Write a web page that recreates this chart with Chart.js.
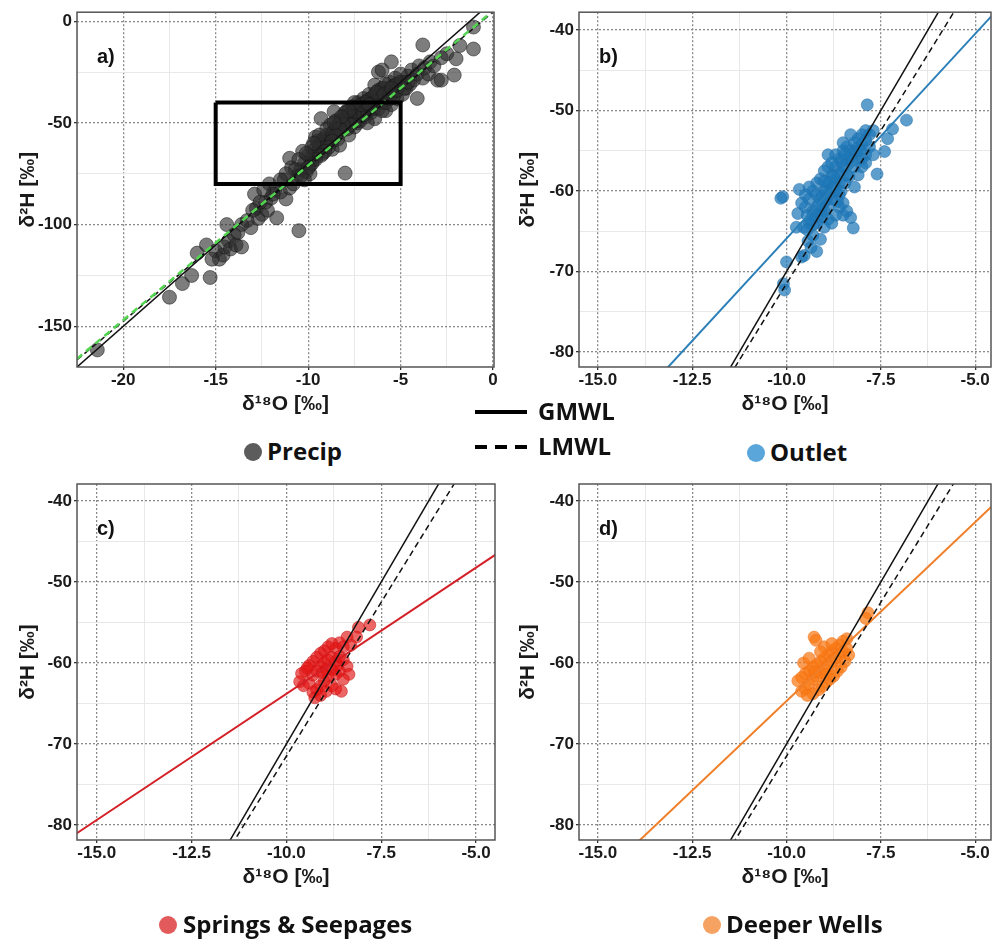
<!DOCTYPE html>
<html>
<head>
<meta charset="utf-8">
<script src="https://cdn.jsdelivr.net/npm/chart.js@4.4.1/dist/chart.umd.min.js"></script>
<style>
  body { margin: 0; background: #fff; width: 998px; height: 943px; position: relative; overflow: hidden; }
  canvas { position: absolute; }
  .leg { position: absolute; font-family: "Open Sans", Lato, sans-serif; font-weight: 700; font-size: 24px; color: #111; white-space: nowrap; line-height: 28px; }
  .dot { position: absolute; width: 18px; height: 18px; border-radius: 50%; }
  .ln { position: absolute; width: 52px; height: 4px; }
</style>
</head>
<body>
<canvas id="panelA" width="502" height="430" style="left:0;top:0"></canvas>
<canvas id="panelB" width="498" height="430" style="left:500px;top:0"></canvas>
<canvas id="panelC" width="502" height="440" style="left:0;top:470px"></canvas>
<canvas id="panelD" width="498" height="440" style="left:500px;top:470px"></canvas>

<div class="dot" style="left:244px;top:443px;background:#5c5c5c"></div>
<div class="leg" style="left:267px;top:437px">Precip</div>
<div class="dot" style="left:747px;top:444px;background:#5aa5da"></div>
<div class="leg" style="left:770px;top:438px">Outlet</div>
<div class="ln" style="left:475px;top:410px;background:#000"></div>
<div class="leg" style="left:538px;top:397px">GMWL</div>
<div class="ln" style="left:475px;top:445px;background:repeating-linear-gradient(to right,#000 0 12px,transparent 12px 20px)"></div>
<div class="leg" style="left:538px;top:432px">LMWL</div>
<div class="dot" style="left:159px;top:916px;background:#e35a5a"></div>
<div class="leg" style="left:183px;top:910px">Springs &amp; Seepages</div>
<div class="dot" style="left:703px;top:916px;background:#f6a262"></div>
<div class="leg" style="left:726px;top:910px">Deeper Wells</div>

<script>
// measured samples, [d18O, d2H]
var precip = [
  [-21.4,-161.6],[-17.5,-135.7],[-16.8,-129],[-16.3,-125],[-15.3,-126],[-16.0,-114],[-15.5,-110],
  [-15.0,-113],[-14.8,-117],[-14.6,-115],[-15.2,-117],[-14.5,-111],[-14.3,-108],[-14.0,-105],
  [-14.2,-112],[-13.9,-110],[-14.4,-100],[-13.6,-111],[-13.1,-101.5],[-12.9,-85],[-12.8,-92],
  [-12.5,-95],[-12.3,-89],[-12.7,-97],[-12.0,-87],[-12.2,-93],[-11.7,-96.7],[-11.2,-87.4],
  [-11.5,-84],[-11.8,-83],[-12.1,-80],[-11.0,-82],[-11.3,-78],[-10.8,-80],[-10.5,-103],
  [-11.0,-67.4],[-10.6,-76],[-10.9,-72],[-10.4,-73],[-10.2,-70],[-10.0,-66],[-10.3,-64],
  [-9.9,-71],[-9.7,-68],[-9.8,-62],[-9.5,-65],[-9.3,-47.9],[-9.3,-60],[-9.6,-57],[-9.1,-62],
  [-9.2,-58],[-9.0,-56],[-8.9,-60],[-8.7,-55],[-8.8,-51],[-8.6,-44.5],[-8.5,-52],[-8.4,-58],
  [-8.3,-49],[-8.2,-54],[-8.0,-74.7],[-8.1,-47],[-8.0,-51],[-7.9,-44],[-7.8,-56],[-7.7,-48],
  [-7.6,-42],[-7.5,-52],[-7.4,-46],[-7.3,-40],[-7.2,-49],[-7.1,-44],[-7.0,-38],[-6.9,-47],
  [-6.8,-42],[-6.7,-36],[-6.6,-45],[-6.5,-40],[-6.4,-31.4],[-6.4,-48],[-6.3,-38],[-6.2,-25],
  [-6.2,-43],[-6.1,-35],[-6.0,-24],[-6.0,-40],[-5.9,-33],[-5.8,-44],[-5.7,-37],[-5.6,-30],
  [-5.5,-20],[-5.5,-41],[-5.4,-35],[-5.3,-28],[-5.2,-38],[-5.1,-32],[-5.0,-26],[-4.9,-36],
  [-4.8,-30],[-4.7,-33],[-4.6,-27],[-4.5,-31],[-4.4,-24],[-4.3,-29],[-4.1,-38],[-4.1,-26],
  [-4.0,-22],[-3.8,-11.7],[-3.8,-28],[-3.7,-23],[-3.5,-26],[-3.4,-20],[-3.2,-22],[-3.0,-29],
  [-2.8,-18],[-2.8,-29],[-2.5,-16],[-2.1,-26.5],[-2.0,-18.5],[-1.8,-12],[-1.06,-2.9],[-1.06,-13.7],
  [-10.1,-74],[-9.8,-67],[-9.6,-63],[-9.4,-61],[-9.2,-65],[-9.0,-61],[-8.8,-57],[-8.6,-54],
  [-8.4,-52],[-8.2,-50],[-8.0,-48],[-7.8,-46],[-7.6,-45],[-7.4,-43],[-7.2,-41],[-7.0,-41],
  [-6.8,-39],[-6.6,-38],[-6.4,-36],[-6.2,-34],[-6.0,-33],[-5.8,-31],[-5.6,-35],[-5.4,-32],
  [-5.2,-31],[-9.5,-59],[-9.0,-53],[-8.5,-49],[-8.0,-45],[-7.5,-43],[-7.0,-44],[-6.5,-43],
  [-6.0,-37],[-10.5,-68],[-10.7,-73],[-11.2,-75],[-11.5,-78],[-11.9,-85],[-12.4,-83],[-12.6,-89],
  [-13.0,-93],[-13.3,-98],[-13.6,-100],[-13.8,-104],[-7.9,-53],[-8.7,-63],[-8.3,-61],[-7.3,-50],
  [-6.8,-50],[-9.9,-75],[-10.2,-78],
  [-7.6,-47],[-7.4,-49],[-7.2,-45],[-7.0,-46],[-6.8,-44],[-6.6,-42],[-6.4,-40],[-6.2,-39],
  [-6.0,-44],[-5.8,-40],[-5.6,-38],[-5.4,-37],[-5.2,-34],[-5.0,-30],[-4.8,-33],[-4.6,-30],
  [-7.9,-49],[-7.7,-51],[-8.1,-51],[-8.3,-53],[-8.5,-56],[-8.7,-59],[-8.9,-62],[-9.1,-64],
  [-9.3,-66],[-9.6,-68],[-9.8,-70],[-10.0,-72],[-10.4,-76],[-7.1,-41],[-6.9,-40],[-6.7,-41],
  [-6.3,-35],[-5.9,-36],[-5.5,-33],[-7.5,-40],[-7.8,-44],[-8.2,-47],[-8.6,-50],[-9.4,-56],
  [-9.7,-60],[-10.1,-65]
];
var outlet = [
  [-7.86,-49.3],[-6.82,-51.2],[-7.19,-52.3],[-7.6,-57.9],[-8.23,-64.6],[-10.1,-60.7],[-10.15,-60.9],
  [-9.66,-59.8],[-10.0,-68.8],[-9.6,-68.2],[-10.08,-71.5],[-10.05,-72.3],[-7.32,-53.5],[-7.4,-55.1],
  [-9.74,-64.5],[-9.43,-66.2],[-9.53,-68.0],[-9.7,-62.8],
  [-9.4,-64],[-9.3,-63],[-9.2,-62],[-9.1,-61],[-9.0,-60],[-8.9,-59],[-8.8,-58],[-8.7,-57],
  [-8.6,-56],[-8.5,-55],[-8.4,-54.5],[-8.3,-55],[-8.2,-54],[-8.1,-53.5],[-8.0,-53],[-7.9,-52.5],
  [-7.8,-53],[-7.7,-52.5],[-7.8,-54.5],[-7.9,-55.5],[-8.0,-56],[-8.2,-57],[-8.4,-58],[-8.6,-59],
  [-8.8,-61],[-9.0,-62.5],[-9.2,-64],[-9.3,-65.5],[-9.1,-66],[-9.4,-61],[-9.5,-62],[-9.3,-60],
  [-9.1,-58.5],[-8.9,-57],[-8.7,-55.5],[-8.5,-54],[-8.3,-53],[-8.9,-55.5],[-9.0,-57.5],[-9.2,-59],
  [-9.4,-59.5],[-9.5,-60.5],[-9.6,-61.5],[-9.55,-64.5],[-8.5,-61.5],[-8.4,-62.5],[-8.3,-63.3],
  [-8.5,-63],[-8.6,-62],[-8.7,-63],[-8.8,-64],[-8.9,-63.5],[-9.0,-64.5],[-8.2,-59.5],[-8.1,-58],
  [-8.0,-57],[-7.9,-56.5],[-7.7,-55.5],[-8.6,-60.5],[-8.7,-60],[-8.9,-62],[-9.2,-60.5],[-9.3,-62.5],
  [-8.45,-57],[-8.65,-58],[-8.75,-59.5],[-8.35,-56],[-8.15,-55.5],[-9.35,-67],[-9.2,-67.5],[-9.45,-63],
  [-9.3,-64.2],[-9.2,-63.2],[-9.1,-62.3],[-9.0,-61.4],[-8.9,-60.5],[-8.8,-59.6],[-8.7,-58.7],
  [-8.6,-57.8],[-8.5,-56.9],[-8.4,-56],[-8.3,-55.6],[-8.2,-55.1],[-8.1,-54.6],[-8.0,-54.2],
  [-7.9,-53.7],[-9.25,-62.8],[-9.15,-61.7],[-9.05,-60.6],[-8.95,-59.8],[-8.85,-58.9],[-8.75,-58.2],
  [-8.55,-56.3],[-8.45,-55.4],[-8.25,-56.2],[-8.05,-55],[-9.35,-63.6],[-9.45,-64.8],[-8.65,-61.3],
  [-8.55,-60],[-8.45,-59],[-8.35,-58.2],[-9.05,-63.2],[-8.95,-61],[-8.8,-56.5],[-9.0,-58.8]
];
var springs = [
  [-7.8,-55.3],[-8.1,-55.6],[-8.15,-56.8],[-8.4,-56.8],[-8.3,-57.8],[-8.5,-58],[-8.6,-57.5],
  [-8.7,-58.2],[-8.8,-57.6],[-8.9,-58],[-9.0,-58.5],[-9.1,-58.8],[-9.2,-59.3],[-9.3,-59.8],
  [-9.4,-60.3],[-9.5,-61],[-9.6,-61.3],[-9.65,-62.3],[-9.55,-62.8],[-9.4,-62.5],[-9.3,-61.5],
  [-9.2,-61],[-9.1,-60.4],[-9.0,-60],[-8.9,-59.6],[-8.8,-59.3],[-8.7,-59.8],[-8.6,-59.2],
  [-8.5,-59.6],[-8.4,-60.4],[-8.35,-61.4],[-8.5,-62],[-8.6,-61],[-8.7,-61.4],[-8.8,-60.8],
  [-8.9,-61.6],[-9.0,-62.2],[-9.1,-62.8],[-9.2,-63.3],[-9.3,-63.6],[-9.25,-64.3],[-9.1,-64],
  [-8.95,-63.5],[-8.8,-62.8],[-8.7,-63.2],[-8.55,-63.5],[-9.45,-60.6],[-8.95,-60.8],[-9.05,-61.2],
  [-8.65,-60.3]
];
var wells = [
  [-7.84,-53.8],[-7.9,-54.5],[-9.27,-56.8],[-9.22,-57.2],[-8.4,-57],[-8.5,-57.3],[-8.6,-57.8],
  [-8.7,-58.2],[-8.8,-58.6],[-8.9,-59],[-9.0,-59.4],[-9.1,-59.8],[-9.2,-60.2],[-9.3,-60.5],
  [-9.4,-61],[-9.5,-61.3],[-9.6,-61.8],[-9.7,-62.2],[-9.6,-63.5],[-9.5,-63.2],[-9.4,-62.6],
  [-9.3,-62],[-9.2,-61.6],[-9.1,-61.2],[-9.0,-60.8],[-8.9,-60.3],[-8.8,-59.8],[-8.7,-59.4],
  [-8.6,-59],[-8.5,-58.6],[-8.4,-58.2],[-8.35,-59],[-8.45,-59.8],[-8.55,-60.5],[-8.65,-61],
  [-8.75,-61.6],[-8.85,-62],[-8.95,-62.4],[-9.05,-62.9],[-9.15,-63.3],[-9.3,-63.8],[-9.45,-64],
  [-9.0,-58],[-8.8,-57.6],[-9.1,-58.6],[-9.55,-60],[-9.4,-59.4],[-8.95,-61.4],[-9.25,-61.1]
];

// line end points
var gmwl = [[-25,-190],[1,18]];
var lmwl = [[-25,-185.5],[1,12.1]];
var precipFit = [[-25,-185],[1,12.7]];
var outletFit = [[-16,-96.4],[-4,-35.4]];
var springsFit = [[-16,-82.5],[-4,-45.1]];
var wellsFit = [[-16,-91.2],[-4,-38.2]];
var boxA = [[-15,-40],[-5,-40],[-5,-80],[-15,-80],[-15,-40]];

// axes
var aXMajor = [-20,-15,-10,-5,0], aXMinor = [-22.5,-17.5,-12.5,-7.5,-2.5];
var aYMajor = [-150,-100,-50,0], aYMinor = [-125,-75,-25];
var bXMajor = [-15,-12.5,-10,-7.5,-5], bXMinor = [-13.75,-11.25,-8.75,-6.25];
var bYMajor = [-80,-70,-60,-50,-40], bYMinor = [-75,-65,-55,-45];
var panelLabels = ['a)','b)','c)','d)'];

function pts(arr) { return arr.map(function (p) { return {x: p[0], y: p[1]}; }); }

function lineSet(arr, color, width, dash) {
  return { type: 'line', data: pts(arr), borderColor: color, borderWidth: width,
    borderDash: dash || [], pointRadius: 0, showLine: true, fill: false, tension: 0 };
}
function dotSet(arr, fill, edge, r) {
  return { type: 'scatter', data: pts(arr), backgroundColor: fill, borderColor: edge,
    borderWidth: 1, pointRadius: r };
}

var frame = {
  id: 'frame',
  afterDraw: function (chart, args, opts) {
    var a = chart.chartArea, c = chart.ctx;
    c.save();
    c.strokeStyle = '#555';
    c.lineWidth = 1.5;
    c.strokeRect(a.left, a.top, a.right - a.left, a.bottom - a.top);
    c.fillStyle = '#111';
    c.font = 'bold 20px "Liberation Sans", Arial, sans-serif';
    c.textBaseline = 'middle';
    c.fillText(opts.label, a.left + 20, a.top + 45);
    c.restore();
  }
};

function axis(min, max, major, minor, fmt, size, isX, title) {
  var all = major.concat(minor).filter(function (v) { return v >= min && v <= max; });
  return {
    type: 'linear', min: min, max: max,
    afterBuildTicks: function (s) { s.ticks = all.sort(function (p, q) { return p - q; }).map(function (v) { return {value: v}; }); },
    afterFit: function (s) { if (isX) s.height = size; else s.width = size; },
    grid: {
      color: function (c) { return major.indexOf(c.tick.value) >= 0 ? '#8a8a8a' : '#e8e8e8'; },
      lineWidth: function (c) { return major.indexOf(c.tick.value) >= 0 ? 1.3 : 1; },
      tickColor: function (c) { return major.indexOf(c.tick.value) >= 0 ? '#333' : 'rgba(0,0,0,0)'; },
      tickLength: 3
    },
    border: { display: false, dash: function (c) { return major.indexOf(c.tick.value) >= 0 ? [2, 2] : []; } },
    ticks: {
      autoSkip: false, maxRotation: 0, padding: isX ? 0 : 2, color: '#1a1a1a',
      font: { family: '"Liberation Sans", Arial, sans-serif', weight: 'bold', size: 17 },
      callback: function (v) { return major.indexOf(v) >= 0 ? fmt(v) : ''; }
    },
    title: { display: true, text: title, color: '#1a1a1a', padding: 0,
      font: { family: '"Liberation Sans", Arial, sans-serif', weight: 'bold', size: 21 } }
  };
}

var xTitle = 'δ¹⁸O [‰]', yTitle = 'δ²H [‰]';
function fmtInt(v) { return String(v); }
function fmt1(v) { return v.toFixed(1); }

function makeChart(id, datasets, xs, ys, pad, label) {
  return new Chart(document.getElementById(id), {
    type: 'scatter',
    data: { datasets: datasets },
    options: {
      responsive: false, animation: false, devicePixelRatio: 1,
      layout: { padding: pad },
      plugins: { legend: { display: false }, tooltip: { enabled: false }, frame: { label: label } },
      scales: { x: xs, y: ys }
    },
    plugins: [frame]
  });
}

makeChart('panelA', [
  lineSet(boxA, '#000', 4),
  lineSet(precipFit, '#53d64f', 2.5, [7, 5]),
  lineSet(lmwl, '#111', 1.5, [6, 4]),
  lineSet(gmwl, '#111', 1.5),
  dotSet(precip, 'rgba(45,45,45,0.62)', 'rgba(20,20,20,0.5)', 7)
], axis(-22.5, 0.05, aXMajor, aXMinor, fmtInt, 50, true, xTitle),
   axis(-170, 4.4, aYMajor, aYMinor, fmtInt, 61, false, yTitle),
   {left: 16, top: 10, right: 2, bottom: 13}, panelLabels[0]);

makeChart('panelB', [
  lineSet(lmwl, '#111', 1.5, [6, 4]),
  lineSet(gmwl, '#111', 1.5),
  lineSet(outletFit, '#2b7fb8', 2),
  dotSet(outlet, 'rgba(31,120,185,0.72)', 'rgba(31,110,170,0.5)', 6)
], axis(-15.5, -4.58, bXMajor, bXMinor, fmt1, 50, true, xTitle),
   axis(-81.85, -37.8, bYMajor, bYMinor, fmtInt, 63, false, yTitle),
   {left: 16, top: 10, right: 0, bottom: 13}, panelLabels[1]);

makeChart('panelC', [
  lineSet(lmwl, '#111', 1.5, [6, 4]),
  lineSet(gmwl, '#111', 1.5),
  lineSet(springsFit, '#d42027', 2),
  dotSet(springs, 'rgba(228,20,20,0.65)', 'rgba(200,20,20,0.5)', 6)
], axis(-15.52, -4.5, bXMajor, bXMinor, fmt1, 50, true, xTitle),
   axis(-81.85, -37.9, bYMajor, bYMinor, fmtInt, 61, false, yTitle),
   {left: 16, top: 14, right: 2, bottom: 20}, panelLabels[2]);

makeChart('panelD', [
  lineSet(lmwl, '#111', 1.5, [6, 4]),
  lineSet(gmwl, '#111', 1.5),
  lineSet(wellsFit, '#f07f2a', 2),
  dotSet(wells, 'rgba(250,120,20,0.72)', 'rgba(240,110,20,0.5)', 6)
], axis(-15.5, -4.58, bXMajor, bXMinor, fmt1, 50, true, xTitle),
   axis(-81.85, -37.9, bYMajor, bYMinor, fmtInt, 63, false, yTitle),
   {left: 16, top: 14, right: 0, bottom: 20}, panelLabels[3]);
</script>
</body>
</html>
